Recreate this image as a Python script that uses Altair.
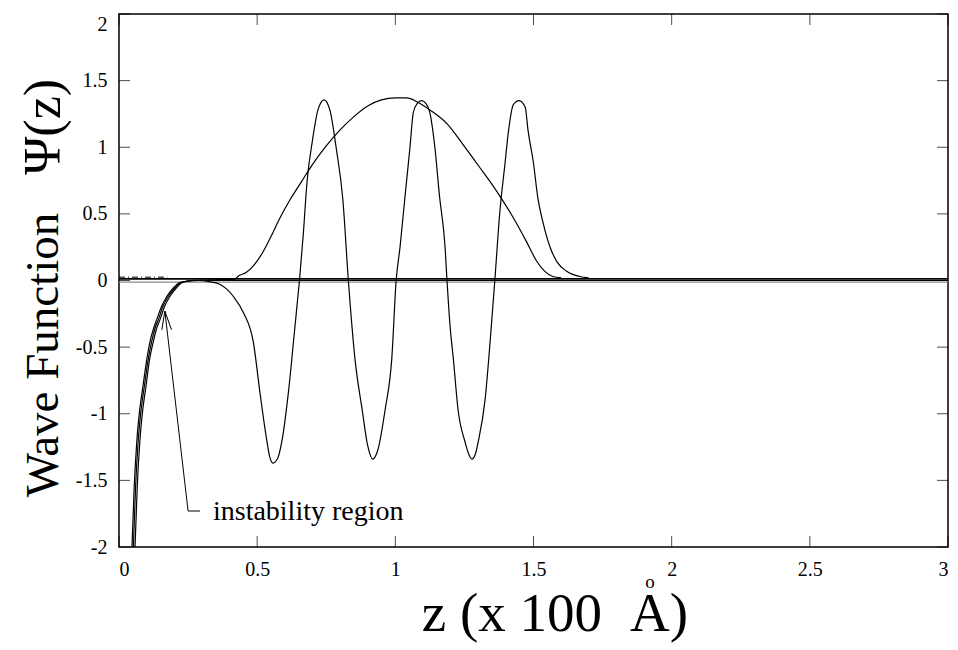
import altair as alt
import pandas as pd

# ---- axis ticks ----
x_ticks = [0, 0.5, 1, 1.5, 2, 2.5, 3]
y_ticks = [-2, -1.5, -1, -0.5, 0, 0.5, 1, 1.5, 2]

# ---- excited-state wave function (with its unstable left tail) ----
excited_z = [0.047, 0.055, 0.065, 0.075, 0.087, 0.10, 0.112, 0.125, 0.137, 0.155, 0.173, 0.195, 0.22,
             0.25, 0.29, 0.33, 0.366, 0.39, 0.414, 0.45, 0.486, 0.51, 0.534, 0.545, 0.557, 0.575, 0.59, 0.613, 0.637, 0.653,
             0.667, 0.68, 0.70, 0.72, 0.742, 0.763, 0.787, 0.81, 0.83,
             0.854, 0.88, 0.90, 0.918, 0.937, 0.963, 0.987, 1.003,
             1.017, 1.035, 1.053, 1.065, 1.08, 1.095, 1.11, 1.125, 1.143, 1.16, 1.18, 1.187,
             1.198, 1.21, 1.227, 1.252, 1.265, 1.277, 1.29, 1.30, 1.325, 1.343, 1.36,
             1.378, 1.397, 1.41, 1.427, 1.448, 1.47, 1.48, 1.50, 1.515, 1.535, 1.56, 1.585, 1.62, 1.667, 1.70]
excited_y = [-2.0, -1.55, -1.19, -0.97, -0.79, -0.60, -0.46, -0.36, -0.29, -0.19, -0.12, -0.06, -0.015,
             -0.005, 0.0, -0.01, -0.03, -0.065, -0.12, -0.24, -0.46, -0.84, -1.19, -1.32, -1.37, -1.33, -1.2, -0.84, -0.34, 0.0,
             0.35, 0.73, 1.05, 1.28, 1.355, 1.28, 0.98, 0.61, 0.0,
             -0.59, -0.97, -1.24, -1.34, -1.27, -0.97, -0.59, 0.0,
             0.25, 0.63, 1.0, 1.26, 1.33, 1.35, 1.33, 1.26, 1.0, 0.63, 0.25, 0.0,
             -0.34, -0.59, -0.97, -1.21, -1.30, -1.34, -1.30, -1.21, -0.89, -0.46, 0.0,
             0.51, 0.88, 1.13, 1.32, 1.35, 1.30, 1.13, 0.88, 0.63, 0.43, 0.25, 0.14, 0.07, 0.03, 0.02]

# ---- ground-state wave function (with its unstable left tail) ----
ground_z = [0.052, 0.06, 0.07, 0.08, 0.092, 0.105, 0.118, 0.13, 0.143, 0.16, 0.178, 0.20, 0.225, 0.26,
            0.42, 0.43, 0.46, 0.49, 0.52, 0.55, 0.58, 0.62, 0.66, 0.70, 0.75, 0.80, 0.85, 0.90, 0.95, 1.0, 1.04,
            1.08, 1.125, 1.19, 1.245, 1.305, 1.37, 1.43, 1.475, 1.51, 1.54, 1.57, 1.60]
ground_y = [-2.0, -1.55, -1.19, -0.97, -0.79, -0.60, -0.46, -0.36, -0.29, -0.19, -0.12, -0.06, -0.015, 0.0,
            0.01, 0.03, 0.06, 0.12, 0.21, 0.33, 0.46, 0.61, 0.74, 0.87, 1.01, 1.13, 1.23, 1.31, 1.355, 1.37, 1.37,
            1.34, 1.28, 1.17, 1.02, 0.85, 0.66, 0.46, 0.29, 0.15, 0.07, 0.03, 0.02]

# ---- third (flat) solution, unstable near the wall ----
flat_z = [0.058, 0.066, 0.076, 0.086, 0.098, 0.11, 0.124, 0.136, 0.149, 0.166, 0.184, 0.206, 0.23, 0.27, 3.0]
flat_y = [-2.0, -1.55, -1.19, -0.97, -0.79, -0.60, -0.46, -0.36, -0.29, -0.19, -0.12, -0.06, -0.015, 0.0, 0.0]

# ---- dash-dot starting segment ----
dash_z = [0.0, 0.175]
dash_y = [0.025, 0.025]

# ---- annotation: arrow to the instability region ----
arrow_z1 = [0.25, 0.166, 0.166, 0.25]
arrow_y1 = [-1.73, -0.23, -0.23, -1.73]
arrow_z2 = [0.166, 0.155, 0.19, 0.293]
arrow_y2 = [-0.23, -0.37, -0.37, -1.73]
label_z = [0.34]
label_y = [-1.74]
label_text = ["instability region"]

W, H = 829, 533
SERIF = "Liberation Serif"

rows = []
for name, zs, ys in [("excited", excited_z, excited_y), ("ground", ground_z, ground_y), ("flat", flat_z, flat_y)]:
    for i, (z, y) in enumerate(zip(zs, ys)):
        rows.append({"series": name, "i": i, "z": z, "psi": y})
df = pd.DataFrame(rows)

xscale = alt.Scale(domain=[0, 3], nice=False, zero=False)
yscale = alt.Scale(domain=[-2, 2], nice=False, zero=False)

xaxis = alt.Axis(values=x_ticks, ticks=False, domain=False, grid=False,
                 labelExpr="datum.value + ''", labelFont=SERIF, labelFontSize=20,
                 labelColor="black", labelPadding=12, title=None)
yaxis = alt.Axis(values=y_ticks, ticks=False, domain=False, grid=False,
                 labelExpr="datum.value + ''", labelFont=SERIF, labelFontSize=20,
                 labelColor="black", labelPadding=12,
                 labelBaseline={"condition": {"test": "datum.value == 2", "value": "top"}, "value": "middle"},
                 title=None)


def X(f):
    return alt.X(f, type="quantitative", scale=xscale, axis=xaxis)


def Y(f):
    return alt.Y(f, type="quantitative", scale=yscale, axis=yaxis)


curves = alt.Chart(df).mark_line(color="black", strokeWidth=1.2, clip=True, interpolate="monotone").encode(
    x=X("z"), y=Y("psi"), detail="series:N", order="i:Q")

zero_black = alt.Chart(pd.DataFrame({"y": [0.012]})).mark_rule(color="black", strokeWidth=1.8).encode(y=Y("y"))
zero_gray = alt.Chart(pd.DataFrame({"y": [-0.012]})).mark_rule(color="#8a8a8a", strokeWidth=1.4).encode(y=Y("y"))

dash = alt.Chart(pd.DataFrame({"z": dash_z, "psi": dash_y})).mark_line(
    color="black", strokeWidth=1, strokeDash=[6, 3, 1, 3]).encode(x=X("z"), y=Y("psi"))

arrow = alt.Chart(pd.DataFrame({"z": arrow_z1, "psi": arrow_y1, "z2": arrow_z2, "psi2": arrow_y2})).mark_rule(
    color="black", strokeWidth=1).encode(x=X("z"), y=Y("psi"), x2="z2", y2="psi2")

label = alt.Chart(pd.DataFrame({"z": label_z, "psi": label_y, "t": label_text})).mark_text(
    font=SERIF, fontSize=28, align="left", baseline="middle", color="black").encode(
    x=X("z"), y=Y("psi"), text="t:N")

left_ticks = alt.Chart(pd.DataFrame({"v": y_ticks})).mark_tick(
    orient="horizontal", size=11, thickness=1, color="black").encode(x=alt.value(5.5), y=Y("v"))
right_ticks = alt.Chart(pd.DataFrame({"v": y_ticks})).mark_tick(
    orient="horizontal", size=11, thickness=1, color="black").encode(x=alt.value(W - 5.5), y=Y("v"))
bottom_ticks = alt.Chart(pd.DataFrame({"v": x_ticks})).mark_tick(
    orient="vertical", size=11, thickness=1, color="black").encode(x=X("v"), y=alt.value(H - 5.5))
top_ticks = alt.Chart(pd.DataFrame({"v": x_ticks})).mark_tick(
    orient="vertical", size=11, thickness=1, color="black").encode(x=X("v"), y=alt.value(5.5))

# y title: "Wave Function" and "Ψ(z)" rotated
ytitle_a = alt.Chart(pd.DataFrame({"t": ["Wave Function"]})).mark_text(
    font=SERIF, fontSize=47, align="center", baseline="middle", angle=270, color="black").encode(
    x=alt.value(-75), y=alt.value(341), text="t:N")
ytitle_b = alt.Chart(pd.DataFrame({"t": ["Ψ(z)"]})).mark_text(
    font=SERIF, fontSize=52, align="center", baseline="middle", angle=270, color="black").encode(
    x=alt.value(-75), y=alt.value(113), text="t:N")

# x title: "z (x 100 Å)" with the ring set above the A
xtitle_a = alt.Chart(pd.DataFrame({"t": ["z (x 100"]})).mark_text(
    font=SERIF, fontSize=55, align="right", baseline="alphabetic", color="black").encode(
    x=alt.value(483), y=alt.value(H + 84), text="t:N")
xtitle_b = alt.Chart(pd.DataFrame({"t": ["A)"]})).mark_text(
    font=SERIF, fontSize=55, align="left", baseline="alphabetic", color="black").encode(
    x=alt.value(511), y=alt.value(H + 84), text="t:N")
ring = alt.Chart(pd.DataFrame({"t": ["o"]})).mark_text(
    font=SERIF, fontSize=19, align="center", baseline="middle", color="black").encode(
    x=alt.value(531), y=alt.value(H + 35), text="t:N")

chart = alt.layer(
    zero_gray, zero_black, dash, curves, arrow, label,
    left_ticks, right_ticks, bottom_ticks, top_ticks,
    ytitle_a, ytitle_b, xtitle_a, xtitle_b, ring
).properties(
    width=W, height=H,
    autosize=alt.AutoSizeParams(type="none"),
    padding={"left": 111, "top": 6, "right": 2, "bottom": 96},
    background="white",
).configure_view(stroke="black", strokeWidth=1.5
).configure_axis(labelFont=SERIF, titleFont=SERIF
).configure_text(font=SERIF)

chart.save("out.html", embed_options={"renderer": "svg", "actions": False})
